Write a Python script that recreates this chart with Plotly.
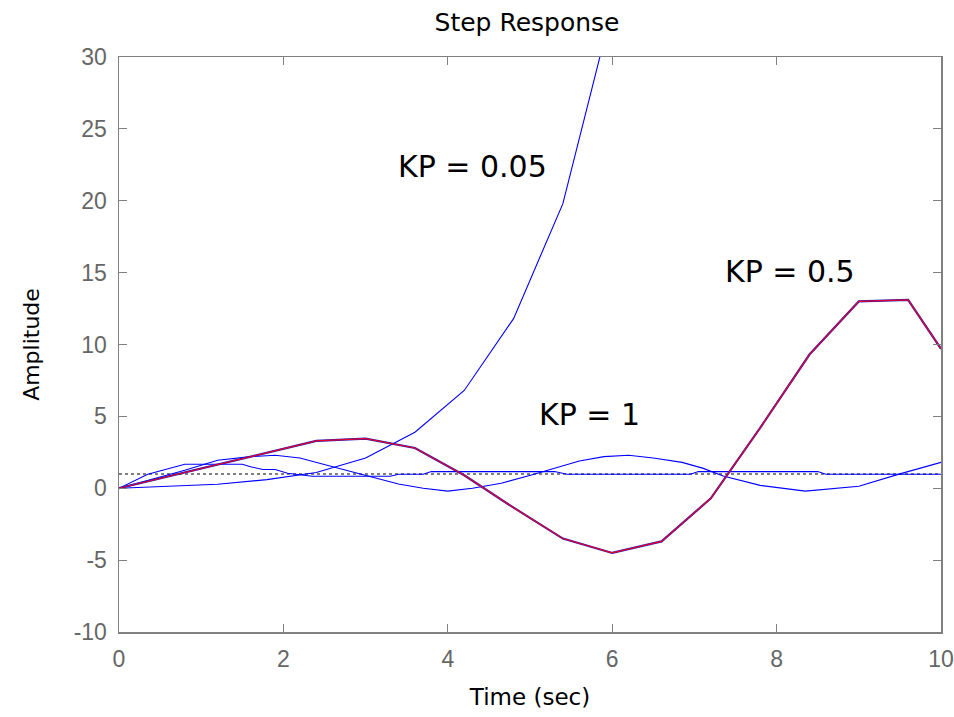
import plotly.graph_objects as go

# KP = 0.05 (unstable, grows)
t_kp005 = [0, 0.6, 1.2, 1.8, 2.4, 3.0, 3.6, 4.2, 4.8, 5.4, 6.0]
y_kp005 = [0, 0.12, 0.28, 0.6, 1.1, 2.1, 3.9, 6.8, 11.8, 19.8, 33.4]

# KP = 0.5 (large oscillation)
t_kp05 = [0, 0.6, 1.2, 1.8, 2.4, 3.0, 3.6, 4.2, 4.8, 5.4, 6.0, 6.6, 7.2, 7.8, 8.4, 9.0, 9.6, 10.0]
y_kp05 = [0, 0.82, 1.65, 2.47, 3.3, 3.45, 2.8, 0.9, -1.35, -3.5, -4.5, -3.7, -0.7, 4.2, 9.3, 13.0, 13.1, 9.7]

# KP = 1 (sustained oscillation around 1)
t_kp1 = [0, 0.4, 0.8, 1.2, 1.6, 1.9, 2.2, 2.6, 3.0, 3.4, 3.7, 4.0, 4.3, 4.65, 5.05, 5.6, 5.9,
         6.2, 6.5, 6.85, 7.1, 7.35, 7.8, 8.35, 9.0, 9.5, 10.0]
y_kp1 = [0, 0.6, 1.25, 1.95, 2.2, 2.3, 2.1, 1.5, 0.9, 0.3, 0.0, -0.2, 0.0, 0.35, 0.97, 1.9, 2.2,
         2.3, 2.1, 1.8, 1.4, 0.85, 0.2, -0.2, 0.14, 1.0, 1.8]

# Fast response settling near 1
t_fast = [0, 0.35, 0.8, 1.5, 1.6, 1.75, 1.9, 2.05, 2.35, 3.3, 3.4, 3.7, 3.8, 5.3, 5.45, 6.95, 7.05,
          8.5, 8.6, 10.0]
y_fast = [0, 0.97, 1.67, 1.67, 1.5, 1.3, 1.3, 1.04, 0.83, 0.83, 0.97, 0.97, 1.16, 1.16, 0.97, 0.97,
          1.16, 1.16, 0.97, 0.97]

# Steady-state reference
t_ref = [0, 10]
y_ref = [1, 1]

labels = ["KP = 0.05", "KP = 0.5", "KP = 1"]
label_x = [4.3, 8.16, 5.72]
label_y = [22.4, 15.07, 5.14]

x_ticks = [0, 2, 4, 6, 8, 10]
y_ticks = [-10, -5, 0, 5, 10, 15, 20, 25, 30]

TXT_FONT = "DejaVu Sans, Liberation Sans, Arial"
TICK_FONT = "Liberation Sans, Arial"

fig = go.Figure()
fig.add_trace(go.Scatter(x=t_ref, y=y_ref, mode="lines",
                         line=dict(color="#555555", width=1.5, dash="dot")))
fig.add_trace(go.Scatter(x=t_fast, y=y_fast, mode="lines", line=dict(color="#0000FF", width=1.1)))
fig.add_trace(go.Scatter(x=t_kp1, y=y_kp1, mode="lines", line=dict(color="#0000FF", width=1.1)))
fig.add_trace(go.Scatter(x=t_kp005, y=y_kp005, mode="lines", line=dict(color="#0000FF", width=1.1)))
fig.add_trace(go.Scatter(x=t_kp05, y=y_kp05, mode="lines",
                         line=dict(color="#2020C0", width=2.2)))
fig.add_trace(go.Scatter(x=t_kp05, y=y_kp05, mode="lines",
                         line=dict(color="#E8002A", width=1.2)))

for txt, lx, ly in zip(labels, label_x, label_y):
    fig.add_annotation(x=lx, y=ly, text=txt, showarrow=False,
                       font=dict(family=TXT_FONT, size=30, color="black"))

axis_common = dict(showline=True, linecolor="#808080", linewidth=1.5, mirror="ticks",
                   ticks="inside", ticklen=8, tickcolor="#808080", tickwidth=1,
                   showgrid=False, zeroline=False, automargin=False,
                   ticklabelstandoff=6, ticklabeloverflow="allow",
                   tickfont=dict(family=TICK_FONT, size=23, color="#666666"))

fig.update_xaxes(range=[0, 10], tickvals=x_ticks, ticktext=[str(v) for v in x_ticks],
                 title=dict(text="Time (sec)", standoff=18,
                            font=dict(family=TXT_FONT, size=23, color="black")),
                 **axis_common)
fig.update_yaxes(range=[-10, 30], tickvals=y_ticks, ticktext=[str(v) for v in y_ticks],
                 title=dict(text="Amplitude", standoff=28,
                            font=dict(family=TXT_FONT, size=22, color="black")),
                 **axis_common)

fig.update_layout(
    width=954, height=717,
    margin=dict(l=119, r=13, t=57, b=85),
    paper_bgcolor="white", plot_bgcolor="white",
    showlegend=False,
    hovermode=False,
    title=dict(text="Step Response", x=527 / 954, xanchor="center", y=1 - 22 / 717,
               yanchor="middle",
               font=dict(family=TXT_FONT, size=25, color="black")),
)

fig.write_html("out.html",
               config={"displayModeBar": False, "staticPlot": True},
               post_script="document.body.style.margin='0';document.body.style.overflow='hidden';")
